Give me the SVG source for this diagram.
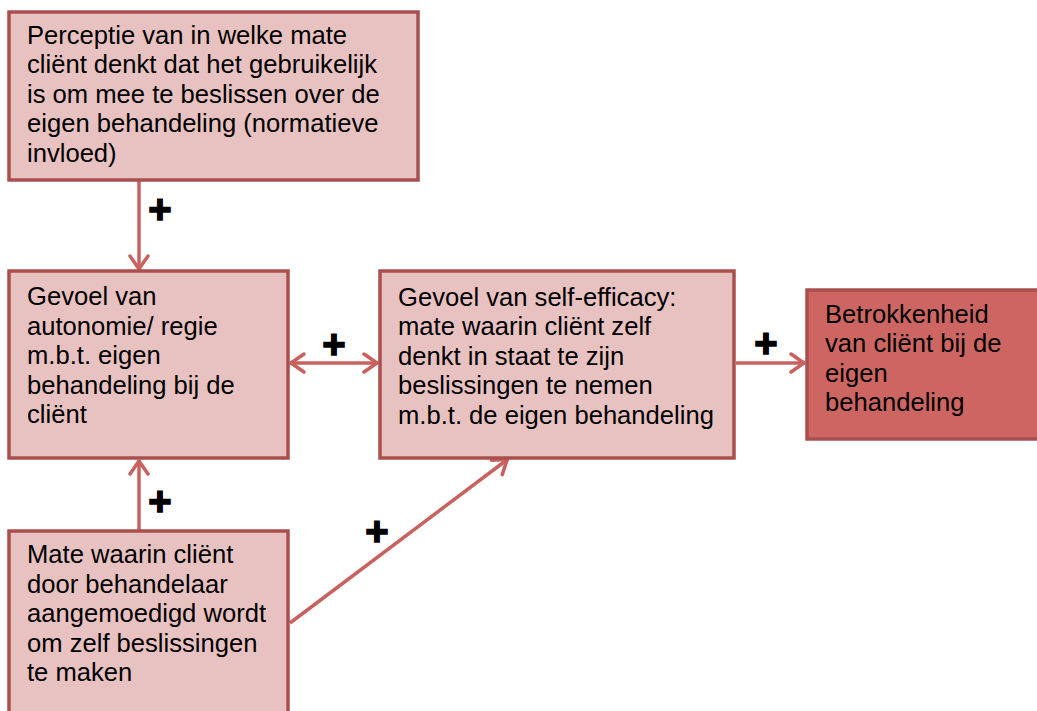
<svg xmlns="http://www.w3.org/2000/svg" width="1037" height="711" viewBox="0 0 1037 711">
<style>
.box{fill:#e8c2c1;stroke:#a9504e;stroke-width:3.5}
.dark{fill:#cd6663;stroke:#a9504e;stroke-width:3.5}
.t{font-family:"Liberation Sans",Arial,sans-serif;font-size:25.6px;fill:#000}
.p{font-family:"Liberation Sans",Arial,sans-serif;font-size:40px;font-weight:bold;fill:#000;stroke:#000;stroke-width:1.5;text-anchor:middle}
.c{stroke:#c8625f;stroke-width:3.5;fill:none}
</style>
<defs>
<marker id="ah" viewBox="0 0 22 22" refX="19" refY="11" markerWidth="22" markerHeight="22" markerUnits="userSpaceOnUse" orient="auto-start-reverse">
<path d="M5,2 L18,11 L5,20" fill="none" stroke="#c8625f" stroke-width="3.5" stroke-linecap="round" stroke-linejoin="round"/>
</marker>
</defs>
<rect width="1037" height="711" fill="#fff"/>
<g id="connectors">
<line class="c" x1="139" y1="181" x2="139" y2="270" marker-end="url(#ah)"/>
<line class="c" x1="290" y1="363" x2="378" y2="363" marker-start="url(#ah)" marker-end="url(#ah)"/>
<line class="c" x1="736" y1="363" x2="805" y2="363" marker-end="url(#ah)"/>
<line class="c" x1="139" y1="530" x2="139" y2="460" marker-end="url(#ah)"/>
<line class="c" x1="290" y1="623" x2="508" y2="459" marker-end="url(#ah)"/>
<text class="p" x="160" y="223">+</text>
<text class="p" x="334" y="358">+</text>
<text class="p" x="766" y="357">+</text>
<text class="p" x="160" y="515">+</text>
<text class="p" x="377" y="545">+</text>
</g>
<g id="n1">
<rect class="box" x="9" y="12" width="409" height="168"/>
<text class="t"><tspan x="27" y="44">Perceptie van in welke mate</tspan><tspan x="27" y="73">cliënt denkt dat het gebruikelijk</tspan><tspan x="27" y="103">is om mee te beslissen over de</tspan><tspan x="27" y="132">eigen behandeling (normatieve</tspan><tspan x="27" y="162">invloed)</tspan></text>
</g>
<g id="n2">
<rect class="box" x="9" y="271" width="279" height="187"/>
<text class="t"><tspan x="27" y="305">Gevoel van</tspan><tspan x="27" y="335">autonomie/ regie</tspan><tspan x="27" y="364">m.b.t. eigen</tspan><tspan x="27" y="394">behandeling bij de</tspan><tspan x="27" y="423">cliënt</tspan></text>
</g>
<g id="n3">
<rect class="box" x="380" y="271" width="354" height="187"/>
<text class="t"><tspan x="398" y="306">Gevoel van self-efficacy:</tspan><tspan x="398" y="335">mate waarin cliënt zelf</tspan><tspan x="398" y="365">denkt in staat te zijn</tspan><tspan x="398" y="394">beslissingen te nemen</tspan><tspan x="398" y="424">m.b.t. de eigen behandeling</tspan></text>
</g>
<g id="n4">
<rect class="dark" x="807" y="290" width="240" height="149"/>
<text class="t"><tspan x="825" y="323">Betrokkenheid</tspan><tspan x="825" y="352">van cliënt bij de</tspan><tspan x="825" y="382">eigen</tspan><tspan x="825" y="411">behandeling</tspan></text>
</g>
<g id="n5">
<rect class="box" x="9" y="531" width="279" height="190"/>
<text class="t"><tspan x="27" y="563">Mate waarin cliënt</tspan><tspan x="27" y="593">door behandelaar</tspan><tspan x="27" y="622">aangemoedigd wordt</tspan><tspan x="27" y="652">om zelf beslissingen</tspan><tspan x="27" y="681">te maken</tspan></text>
</g>
</svg>
